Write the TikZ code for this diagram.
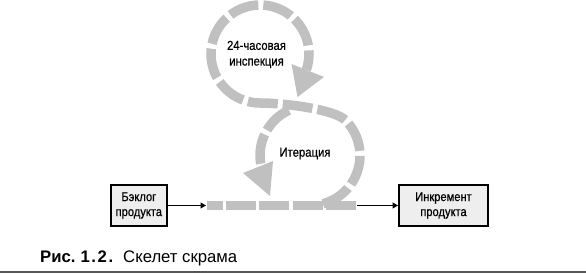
\documentclass[tikz,border=0pt]{standalone}
\usepackage{fontspec}
\setmainfont{Liberation Sans}
\newfontfamily\narrowfont[FakeStretch=0.87,FakeBold=0.6]{Liberation Sans}
\usetikzlibrary{arrows.meta}
\definecolor{loopgray}{RGB}{192,192,192}
\definecolor{boxfill}{RGB}{238,238,238}
\definecolor{rulegray}{RGB}{85,85,85}
\begin{document}
\begin{tikzpicture}[x=1pt,y=1pt]
\tikzset{
  loopline/.style={draw=loopgray, line width=9.5pt, dash pattern=on 30pt off 5pt},
  hline/.style={draw=loopgray, line width=9.5pt, dash pattern=on 30pt off 3.33pt, dash phase=14.6pt},
  headtri/.style={fill=loopgray, draw=none},
  boxnode/.style={draw=black, line width=1.6pt, fill=boxfill, inner sep=0pt, minimum height=41.4pt, align=center, font=\narrowfont\fontsize{12.8}{15}\selectfont},
  flow/.style={draw=black, line width=1.1pt, -{Triangle[length=5.5pt,width=6pt]}},
  looplabel/.style={font=\narrowfont\fontsize{13}{15.7}\selectfont, align=center, inner sep=0pt},
  captionfont/.style={anchor=base west, inner sep=0pt, font=\fontsize{16.7}{19}\selectfont},
}
\useasboundingbox (0,0) rectangle (586,273);

% boxes
\node[boxnode, minimum width=56.1pt] (bl) at (138.85,67.5) {Бэклог\\продукта};
\node[boxnode, minimum width=89.4pt] (inc) at (443.5,67.5) {Инкремент\\продукта};

% coordinates
\coordinate (hS) at (207.3,67.3);
\coordinate (hE) at (356.1,67.3);
\coordinate (aL) at (206,67.5);
\coordinate (aR) at (357,67.5);
\coordinate (L) at (310,117.5);
\coordinate (U) at (260,219);

% horizontal dashed line
\draw[hline] (hS) -- (hE);

% loop A: lower right side into the upper loop
\draw[loopline] ([shift={(-75:50)}]L) arc[start angle=-75,end angle=45,radius=50]
  .. controls +(135:15) and (285,170) .. (260,170)
  arc[start angle=-90,end angle=-379,radius=49];
\fill[headtri] (291.5,209) -- (324,196) -- (297.5,176) -- cycle;

% loop B: left side of the lower loop
\draw[loopline] ([shift={(115:50)}]L) arc[start angle=115,end angle=193,radius=50];
\fill[headtri] (243,100) -- (273,112) -- (270,77) -- cycle;

% labels
\node[looplabel] (insp) at (256.5,218.5) {24-часовая\\инспекция};
\node[looplabel, anchor=base] (iter) at (305,116.3) {Итерация};

% arrows
\draw[flow] (bl) -- (aL);
\draw[flow] (aR) -- (inc);

% caption
\node[captionfont, font=\bfseries\fontsize{16.7}{19}\selectfont] (capnum) at (40,10) {Рис.\hspace{5pt}1\kern1.6pt.\kern1.6pt2\kern1.6pt.};
\node[captionfont] (captext) at (123,10) {Скелет скрама};
\coordinate (ruleL) at (0,1.3);
\coordinate (ruleR) at (586,1.3);
\draw[rulegray, line width=2pt] (ruleL) -- (ruleR);
\end{tikzpicture}
\end{document}
